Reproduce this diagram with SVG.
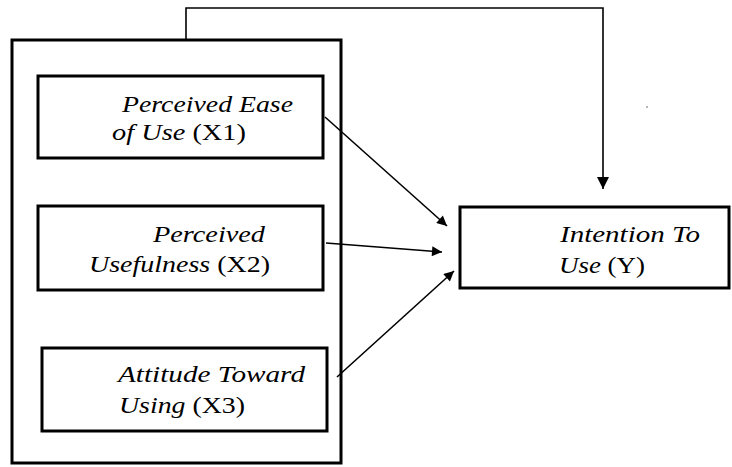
<svg xmlns="http://www.w3.org/2000/svg" width="732" height="467" viewBox="0 0 732 467">
<style>
.box{fill:none;stroke:#000;stroke-width:3}
.con{fill:none;stroke:#000;stroke-width:1.6}
text{font-family:"Liberation Serif","Times New Roman",serif;font-size:23px;fill:#000}
.i{font-style:italic}
</style>
<defs>
<marker id="ah" viewBox="0 0 10 10" refX="10" refY="5" markerWidth="11" markerHeight="10" markerUnits="userSpaceOnUse" orient="auto">
<path d="M0,0 L10,5 L0,10 z" fill="#000"/>
</marker>
<marker id="ahb" viewBox="0 0 10 10" refX="10" refY="5" markerWidth="12" markerHeight="13" markerUnits="userSpaceOnUse" orient="auto">
<path d="M0,0 L10,5 L0,10 z" fill="#000"/>
</marker>
</defs>
<rect width="732" height="467" fill="#fff"/>
<g id="outer">
<rect class="box" x="12" y="40" width="329" height="423"/>
</g>
<g id="x1">
<rect class="box" x="38" y="76" width="285" height="82"/>
<text x="122" y="112" textLength="171" lengthAdjust="spacingAndGlyphs" class="i">Perceived Ease</text>
<text x="112" y="140" textLength="134" lengthAdjust="spacingAndGlyphs"><tspan class="i">of Use </tspan>(X1)</text>
</g>
<g id="x2">
<rect class="box" x="38" y="206" width="285" height="84"/>
<text x="153" y="242" textLength="112" lengthAdjust="spacingAndGlyphs" class="i">Perceived</text>
<text x="89" y="272" textLength="181" lengthAdjust="spacingAndGlyphs"><tspan class="i">Usefulness </tspan>(X2)</text>
</g>
<g id="x3">
<rect class="box" x="42" y="348" width="285" height="83"/>
<text x="118" y="382" textLength="187" lengthAdjust="spacingAndGlyphs" class="i">Attitude Toward</text>
<text x="119" y="413" textLength="126" lengthAdjust="spacingAndGlyphs"><tspan class="i">Using </tspan>(X3)</text>
</g>
<g id="y">
<rect class="box" x="460" y="207" width="269" height="81"/>
<text x="560" y="242" textLength="140" lengthAdjust="spacingAndGlyphs" class="i">Intention To</text>
<text x="559" y="273" textLength="86" lengthAdjust="spacingAndGlyphs"><tspan class="i">Use </tspan>(Y)</text>
</g>
<g id="connectors">
<path class="con" d="M186,40 V8 H603 V189" marker-end="url(#ahb)"/>
<line class="con" x1="325" y1="117" x2="447" y2="226" marker-end="url(#ah)"/>
<line class="con" x1="326" y1="243" x2="442" y2="252" marker-end="url(#ah)"/>
<line class="con" x1="337" y1="377" x2="454" y2="271" marker-end="url(#ah)"/>
</g>
<circle cx="647" cy="107" r="0.8" fill="#555"/>
</svg>
